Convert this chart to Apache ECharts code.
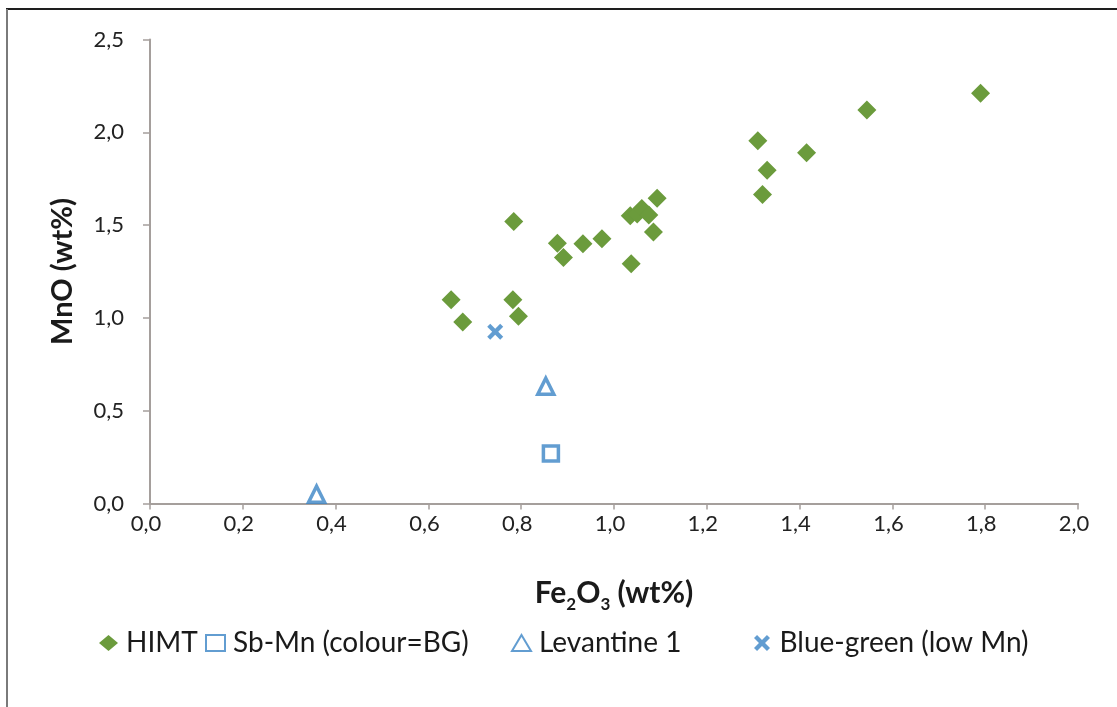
<!DOCTYPE html>
<html>
<head>
<meta charset="utf-8">
<script src="https://cdn.jsdelivr.net/npm/echarts@6/dist/echarts.min.js"></script>
<style>
html,body{margin:0;padding:0;background:#fff;}
#c{width:1117px;height:707px;}
</style>
</head>
<body>
<div id="c"></div>
<script>
// Fe2O3 (x) and MnO (y), wt%
const himtX = [1.79, 1.545, 1.31, 1.415, 1.33, 1.32, 1.093, 1.035, 1.05, 1.06, 1.075, 1.085, 1.037, 0.784, 0.878, 0.891, 0.933, 0.974, 0.649, 0.674, 0.782, 0.794];
const himtY = [2.21, 2.12, 1.955, 1.89, 1.795, 1.665, 1.645, 1.55, 1.56, 1.59, 1.555, 1.463, 1.292, 1.52, 1.402, 1.325, 1.40, 1.426, 1.098, 0.978, 1.098, 1.009];
const sbMnX = [0.864];
const sbMnY = [0.269];
const levX = [0.853, 0.359];
const levY = [0.632, 0.05];
const bgX = [0.744];
const bgY = [0.925];
const seriesNames = ['HIMT', 'Sb-Mn (colour=BG)', 'Levantine 1', 'Blue-green (low Mn)'];
const xTickStep = 0.2, yTickStep = 0.5;

const zip = (a, b) => a.map((v, i) => [v, b[i]]);
const GREEN = '#6b9b3c', BLUE = '#3b84c6';
const XPATH = 'path://M0,1.9 L1.9,0 L5,3.1 L8.1,0 L10,1.9 L6.9,5 L10,8.1 L8.1,10 L5,6.9 L1.9,10 L0,8.1 L3.1,5 Z';
const fmt = v => v.toFixed(1).replace('.', ',');
const FONT = 'Lato';

const chart = echarts.init(document.getElementById('c'), null, {renderer: 'canvas'});
const legendBase = (name, left) => ({
  data: [name], left: left, top: 624, itemGap: 0,
  itemWidth: 19, itemHeight: 16,
  textStyle: {fontFamily: FONT, fontSize: 28, color: '#1a1a1a', padding: [0, 0, 0, 3]},
  selectedMode: false
});
chart.setOption({
  animation: false,
  backgroundColor: '#fff',
  graphic: [
    {type: 'line', shape: {x1: 6, y1: 9, x2: 1117, y2: 9}, style: {stroke: '#1e1e1e', lineWidth: 2}},
    {type: 'line', shape: {x1: 7, y1: 9, x2: 7, y2: 707}, style: {stroke: '#7a7a7a', lineWidth: 2}}
  ],
  grid: {left: 150, right: 39, top: 39.5, bottom: 203.5, containLabel: false},
  xAxis: {
    type: 'value', min: 0, max: 2, interval: xTickStep,
    splitLine: {show: false},
    axisLine: {onZero: false, lineStyle: {color: '#a59f9c', width: 2}},
    axisTick: {show: true, length: 6, lineStyle: {color: '#a59f9c', width: 1.5}},
    axisLabel: {formatter: fmt, fontFamily: FONT, fontSize: 22, color: '#222', margin: 9, padding: [0, 8, 0, 0]},
    name: '{b|Fe}{s|2}{b|O}{s|3}{b| (wt%)}',
    nameLocation: 'middle', nameGap: 70,
    nameTextStyle: {
      rich: {
        b: {fontFamily: FONT, fontSize: 30, fontWeight: 'bold', color: '#1a1a1a', lineHeight: 40},
        s: {fontFamily: FONT, fontSize: 17, fontWeight: 'bold', color: '#1a1a1a', lineHeight: 40, verticalAlign: 'bottom', padding: [16, 0, 0, 0]}
      }
    }
  },
  yAxis: {
    type: 'value', min: 0, max: 2.5, interval: yTickStep,
    splitLine: {show: false},
    axisLine: {onZero: false, lineStyle: {color: '#a59f9c', width: 2}},
    axisTick: {show: true, length: 7, lineStyle: {color: '#a59f9c', width: 1.5}},
    axisLabel: {formatter: fmt, fontFamily: FONT, fontSize: 22, color: '#222', margin: 26},
    name: 'MnO (wt%)', nameLocation: 'middle', nameGap: 73, nameRotate: 90,
    nameTextStyle: {fontFamily: FONT, fontSize: 29, fontWeight: 'bold', color: '#1a1a1a'}
  },
  legend: [
    legendBase(seriesNames[0], 94),
    legendBase(seriesNames[1], 200),
    legendBase(seriesNames[2], 506),
    legendBase(seriesNames[3], 749)
  ],
  series: [
    {name: seriesNames[0], type: 'scatter', data: zip(himtX, himtY), symbol: 'diamond', symbolSize: 19,
     itemStyle: {color: GREEN, opacity: 1}},
    {name: seriesNames[1], type: 'scatter', data: zip(sbMnX, sbMnY), symbol: 'rect', symbolSize: 15,
     itemStyle: {color: '#fff', borderColor: BLUE, borderWidth: 3.5}},
    {name: seriesNames[2], type: 'scatter', data: zip(levX, levY), symbol: 'triangle', symbolSize: 16,
     itemStyle: {color: '#fff', borderColor: BLUE, borderWidth: 3.5}},
    {name: seriesNames[3], type: 'scatter', data: zip(bgX, bgY), symbol: XPATH, symbolSize: 16,
     itemStyle: {color: BLUE}}
  ]
});
</script>
</body>
</html>
